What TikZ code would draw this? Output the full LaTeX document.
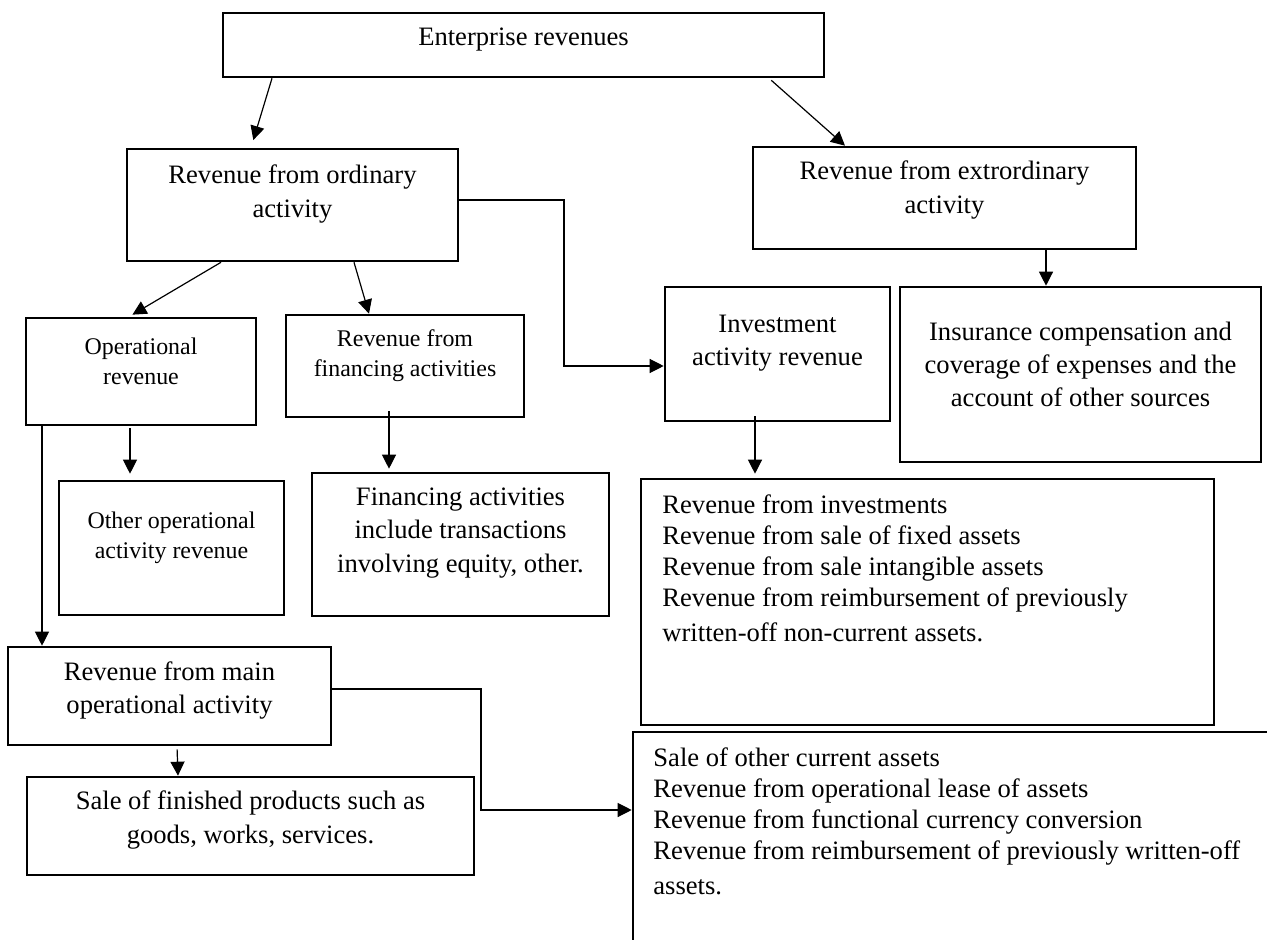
\documentclass[tikz,border=0pt]{standalone}
\usepackage{fontspec}
\setmainfont{Liberation Serif}
\usetikzlibrary{arrows.meta,calc}

\newcommand{\bigfs}{\fontsize{13.3pt}{16.7pt}\selectfont}
\newcommand{\smallfs}{\fontsize{11.95pt}{15pt}\selectfont}
\newcommand{\listfs}{\fontsize{13.3pt}{15.5pt}\selectfont}

\tikzset{
	box/.style={draw, rectangle, line width=1.3pt, inner sep=0pt},
	lbl/.style={font=\bigfs, align=center, inner sep=0pt},
	slbl/.style={font=\smallfs, align=center, inner sep=0pt},
	llbl/.style={font=\listfs, align=left, inner sep=0pt, anchor=west},
	arr/.style={line width=0.6pt, -{Triangle[length=7pt,width=7pt]}}
}

\begin{document}
\begin{tikzpicture}[x=0.5pt, y=-0.5pt]
	\useasboundingbox (0,0) rectangle (1267,940);
	\clip (0,0) rectangle (1267,940);
	% boxes
	\node[box, minimum width=300.5pt, minimum height=32pt] (ent) at (523.5,45) {};
	\node[box, minimum width=165.5pt, minimum height=56pt] (ord) at (292.5,205) {};
	\node[box, minimum width=191.5pt, minimum height=51pt] (ext) at (944.5,198) {};
	\node[box, minimum width=115pt, minimum height=53.5pt] (oper) at (141,371.5) {};
	\node[box, minimum width=119pt, minimum height=51pt] (fin) at (405,366) {};
	\node[box, minimum width=112.5pt, minimum height=67pt] (inv) at (777.5,354) {};
	\node[box, minimum width=180.5pt, minimum height=87.5pt] (ins) at (1080.5,374.5) {};
	\node[box, minimum width=112.5pt, minimum height=67pt] (othop) at (171.5,548) {};
	\node[box, minimum width=148.5pt, minimum height=71.5pt] (finact) at (460.5,544.5) {};
	\node[box, minimum width=286.5pt, minimum height=123pt] (invlist) at (927.5,602) {};
	\node[box, minimum width=161.5pt, minimum height=49pt] (mainop) at (169.5,696) {};
	\node[box, minimum width=223.5pt, minimum height=49pt] (sale) at (250.5,826) {};
	\node[box, minimum width=333.5pt, minimum height=124pt] (botr) at (966.5,856) {};
	% texts
	\node[lbl] (entlbl) at (523.5,40) {Enterprise revenues};
	\node[lbl] (ordlbl) at (292.5,194) {Revenue from ordinary\\activity};
	\node[lbl] (extlbl) at (944.5,190) {Revenue from extrordinary\\activity};
	\node[slbl] (operlbl) at (141,361.5) {Operational\\revenue};
	\node[slbl] (finlbl) at (405,355.5) {Revenue from\\financing activities};
	\node[lbl] (invlbl) at (777.5,343) {Investment\\activity revenue};
	\node[lbl] (inslbl) at (1080.5,364.5) {Insurance compensation and\\coverage of expenses and the\\account of other sources};
	\node[slbl] (othoplbl) at (171.5,537.5) {Other operational\\activity revenue};
	\node[lbl] (finactlbl) at (460.5,533) {Financing activities\\include transactions\\involving equity, other.};
	\node[llbl] (invlistlbl) at (662,568.5) {Revenue from investments\\Revenue from sale of fixed assets\\Revenue from sale intangible assets\\Revenue from reimbursement of previously\\[2pt]written-off non-current assets.};
	\node[lbl] (mainoplbl) at (169.5,690.5) {Revenue from main\\operational activity};
	\node[lbl] (salelbl) at (250.5,820) {Sale of finished products such as\\goods, works, services.};
	\node[llbl] (botrlbl) at (653,821.5) {Sale of other current assets\\Revenue from operational lease of assets\\Revenue from functional currency conversion\\Revenue from reimbursement of previously written-off\\[2pt]assets.};
	% connectors
	\draw[arr, shorten >=4pt] (ent.south -| 272,0) -- (ord.north -| 251,0);
	\draw[arr, shorten <=1.5pt] (ent.south -| 769,0) -- (ext.north -| 845,0);
	\draw[arr] (ord.east |- 0,200) -- (564,200) |- (inv.west |- 0,366);
	\draw[arr, shorten >=2pt] (ord.south -| 221,0) -- (oper.north -| 129,0);
	\draw[arr] (ord.south -| 354,0) -- (fin.north -| 369,0);
	\draw[arr] (ext.south -| 1046,0) -- (ins.north -| 1046,0);
	\draw[arr, shorten <=1pt, shorten >=3pt] (oper.south -| 130,0) -- (othop.north -| 130,0);
	\draw[arr] (oper.south -| 42,0) -- (mainop.north -| 42,0);
	\draw[arr, shorten >=1.5pt] ($(fin.south -| 389,0)+(0,-7)$) -- (finact.north -| 389,0);
	\draw[arr, shorten >=2pt] ($(inv.south -| 755,0)+(0,-6)$) -- (invlist.north -| 755,0);
	\draw[arr, shorten <=1.5pt] (mainop.south -| 177,0) -- (sale.north -| 178,0);
	\draw[arr] (mainop.east |- 0,689) -- (481,689) |- (botr.west |- 0,810);
\end{tikzpicture}
\end{document}
